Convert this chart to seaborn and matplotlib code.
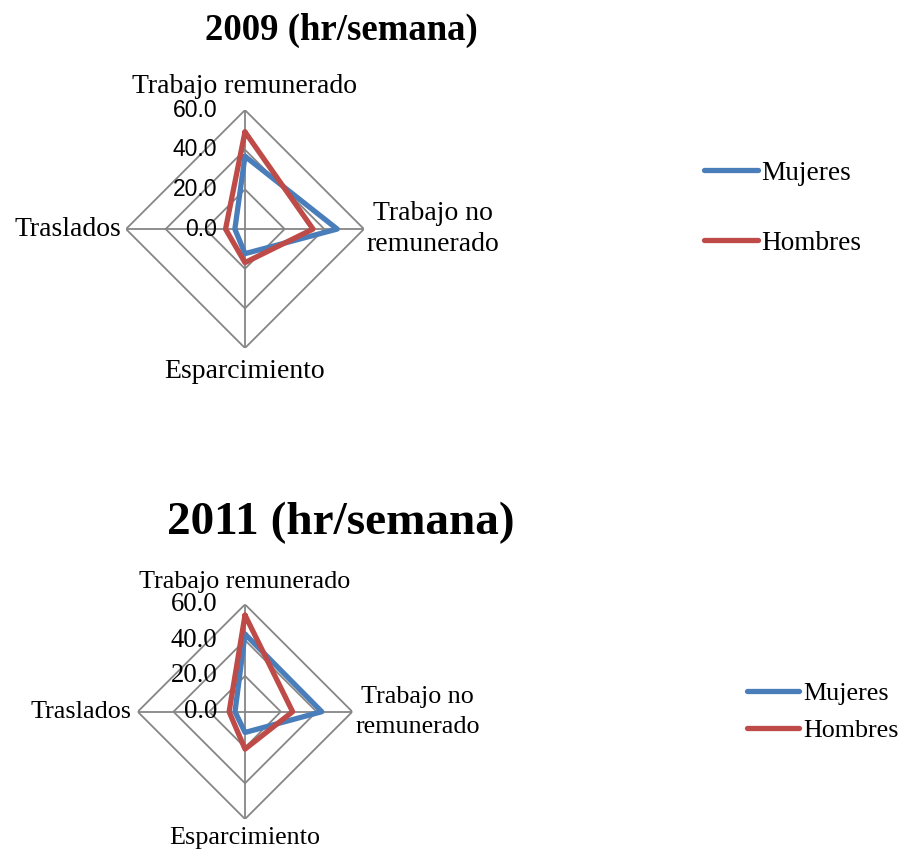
import numpy as np
import pandas as pd
import matplotlib
matplotlib.use('Agg')
import matplotlib.pyplot as plt
import seaborn as sns
from matplotlib.lines import Line2D

# datos (hr/semana)
categorias = ['Trabajo remunerado', 'Trabajo no\nremunerado', 'Esparcimiento', 'Traslados']
mujeres_2009 = [36.7, 46.5, 12.4, 5.1]
hombres_2009 = [49.0, 34.3, 16.9, 9.8]
mujeres_2011 = [43.4, 42.9, 11.6, 5.6]
hombres_2011 = [54.0, 26.6, 20.9, 8.9]
niveles = [0, 20, 40, 60]
series = ['Mujeres', 'Hombres']
colores = {'Mujeres': '#4A7EBB', 'Hombres': '#BE4B48'}

sns.set_style('white')
plt.rcParams['font.family'] = ['Liberation Serif', 'DejaVu Serif']
plt.rcParams['text.color'] = 'black'

angulos = np.arange(len(categorias)) * np.pi / 2


def radar(ax, muj, hom, tick_font, tick_size, lab_size, offs, lsp):
    ax.set_theta_zero_location('N')
    ax.set_theta_direction(-1)
    ax.set_ylim(0, 60)
    ax.grid(False)
    ax.spines['polar'].set_visible(False)
    ax.set_xticks([])
    ax.set_yticks([])
    ax.patch.set_alpha(0)

    # rejilla poligonal
    th = np.append(angulos, angulos[0])
    for r in niveles[1:]:
        ax.plot(th, [r] * len(th), color='#868686', lw=1.3, zorder=1)
    for a in angulos:
        ax.plot([a, a], [0, niveles[-1]], color='#868686', lw=1.3, zorder=1)

    filas = []
    for nombre, vals in zip(series, [muj, hom]):
        for a, v in zip(list(angulos) + [angulos[0]], list(vals) + [vals[0]]):
            filas.append({'theta': a, 'valor': v, 'serie': nombre})
    df = pd.DataFrame(filas)
    sns.lineplot(data=df, x='theta', y='valor', hue='serie', palette=colores,
                 sort=False, estimator=None, lw=3.8, legend=False, ax=ax, zorder=3)
    ax.set_xlabel('')
    ax.set_ylabel('')
    ax.set_ylim(0, 60)

    for r in niveles:
        ax.annotate('%.1f' % r, xy=(0, r), xytext=(-20, 0), textcoords='offset points',
                    ha='right', va='center', fontsize=tick_size, family=tick_font)

    top, right, bottom, left = offs
    ax.annotate(categorias[0], xy=(angulos[0], 60), xytext=(0, top), textcoords='offset points',
                ha='center', va='center', fontsize=lab_size)
    ax.annotate(categorias[1], xy=(angulos[1], 60), xytext=(right, 0), textcoords='offset points',
                ha='left', va='center', multialignment='center', fontsize=lab_size, linespacing=lsp)
    ax.annotate(categorias[2], xy=(angulos[2], 60), xytext=(0, bottom), textcoords='offset points',
                ha='center', va='center', fontsize=lab_size)
    ax.annotate(categorias[3], xy=(angulos[3], 60), xytext=(left, 0), textcoords='offset points',
                ha='right', va='center', fontsize=lab_size)


fig = plt.figure(figsize=(9.03, 8.52), dpi=100)
ax1 = fig.add_axes([0.1395, 0.5915, 0.2636, 0.2793], projection='polar')
ax2 = fig.add_axes([0.1525, 0.0387, 0.2377, 0.2519], projection='polar')

radar(ax1, mujeres_2009, hombres_2009, ['Liberation Sans', 'DejaVu Sans'], 16.5, 20,
      (17, 2, -16.6, -3.6), 1.3)
radar(ax2, mujeres_2011, hombres_2011, ['Liberation Serif', 'DejaVu Serif'], 19.3, 18.8,
      (16, 2, -13.7, -4.3), 1.45)

fig.text(341 / 903, 1 - 30 / 852, '2009 (hr/semana)', ha='center', va='center',
         fontsize=26.5, fontweight='bold')
fig.text(341 / 903, 1 - 523 / 852, '2011 (hr/semana)', ha='center', va='center',
         fontsize=34, fontweight='bold')

handles = [Line2D([], [], color=colores[s], lw=3.8, solid_capstyle='round') for s in series]
fig.legend(handles, series, loc='center left', bbox_to_anchor=(704 / 903, 1 - 208 / 852),
           frameon=False, fontsize=19.6, handlelength=2.0, handletextpad=0.1,
           labelspacing=1.65, borderpad=0, borderaxespad=0)
fig.legend(handles, series, loc='center left', bbox_to_anchor=(747 / 903, 1 - 712 / 852),
           frameon=False, fontsize=18.7, handlelength=2.0, handletextpad=0.15,
           labelspacing=0.55, borderpad=0, borderaxespad=0)

fig.savefig('out.png', dpi=100)
